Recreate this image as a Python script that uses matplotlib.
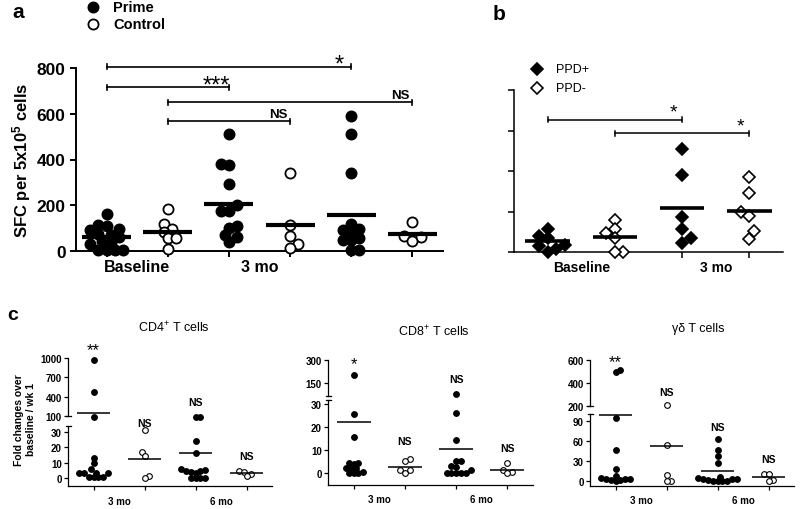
import numpy as np
import matplotlib
matplotlib.use("Agg")
import matplotlib.pyplot as plt
from matplotlib.lines import Line2D

plt.rcParams['font.family'] = ['Liberation Sans', 'DejaVu Sans']
plt.rcParams['mathtext.fontset'] = 'custom'
plt.rcParams['mathtext.rm'] = 'Liberation Sans'
plt.rcParams['mathtext.bf'] = 'Liberation Sans:bold'
plt.rcParams['mathtext.default'] = 'regular'

# ---- data: panel a (SFC per 5x10^5 cells)
a_groups = ["Prime base", "Control base", "Prime 3 mo", "Control 3 mo", "Prime 6 mo", "Control 6 mo"]
a_prime_base = [160, 115, 110, 95, 90, 75, 70, 60, 45, 35, 30, 5, 5, 5, 5]
a_ctrl_base = [185, 120, 95, 85, 55, 55, 10]
a_prime_3 = [510, 380, 375, 295, 200, 175, 175, 110, 100, 70, 60, 40]
a_ctrl_3 = [340, 115, 65, 30, 15]
a_prime_6 = [590, 510, 340, 120, 95, 90, 85, 55, 50, 50, 5, 5]
a_ctrl_6 = [125, 65, 60, 45]
a_means = [61, 83, 207, 112, 156, 76]
a_xlabels = ["Baseline", "3 mo"]
a_brackets = [(1, 3, 716, "***"), (1, 5, 806, "*"), (2, 4, 567, "NS"), (2, 6, 650, "NS")]

# ---- data: panel b
b_pos_base = [57, 39, 34, 18, 16, 7, 0]
b_neg_base = [80, 57, 48, 34, 0, 0]
b_pos_3 = [255, 191, 86, 56, 34, 21]
b_neg_3 = [186, 146, 99, 88, 51, 33]
b_means = [26, 37, 108, 101]
b_xlabels = ["Baseline", "3 mo"]
b_brackets = [(1, 3, 327, "*"), (2, 4, 293, "*")]

# ---- data: panel c (fold changes over baseline / wk 1)
c_xlabels = ["3 mo", "6 mo"]
cd4 = [[970, 480, 80, 13, 9.5, 6, 3.5, 3, 3, 3, 0.5, 0.5, 0.5, 0.5],
       [31, 17, 14, 1, 0],
       [80, 80, 24, 16, 6, 5, 4.5, 4.5, 4, 3.5, 0, 0, 0, 0],
       [4.5, 3.8, 2.5, 1]]
cd4_means = [145, 12.5, 16, 3.2]
cd4_notes = ["**", "NS", "NS", "NS"]
cd8 = [[200, 25.5, 15.5, 4.5, 4.5, 4, 2, 2, 2, 0.5, 0, 0, 0],
       [6, 5, 1.2, 1.2, 0],
       [80, 26, 14.5, 5, 5, 3, 2.5, 1.5, 0, 0, 0, 0, 0],
       [4.5, 1.5, 0.6, 0]]
cd8_means = [22, 2.8, 10.4, 1.5]
cd8_notes = ["*", "NS", "NS", "NS"]
gd = [[510, 495, 94, 46, 19, 8, 5, 4, 3, 3, 2, 2, 1],
      [205, 54, 9, 0, 0],
      [63, 47, 38, 27, 6, 5, 4, 3, 3, 2, 1, 1, 0, 0],
      [11, 11, 2.5, 0]]
gd_means = [98, 53, 15, 6]
gd_notes = ["**", "NS", "NS", "NS"]

W, H = 800, 510


def rect(l, t, r, b):
    return [l / W, 1 - b / H, (r - l) / W, (b - t) / H]


def fx(x):
    return x / W


def fy(y):
    return 1 - y / H


def swarm(ax, xc, vals, d):
    # simple beeswarm in pixel space
    vals = np.asarray(vals, dtype=float)
    pts = ax.transData.transform(np.column_stack([np.full(len(vals), xc), vals]))
    placed = []
    xpix = np.zeros(len(vals))
    flip = 1
    for i in np.argsort(pts[:, 1]):
        y = pts[i, 1]
        found = None
        for k in range(0, 60):
            for sgn in ([1] if k == 0 else [flip, -flip]):
                off = sgn * k * d * 0.5
                if all((off - px) ** 2 + (y - py) ** 2 >= d * d * 0.95 for px, py in placed):
                    found = off
                    break
            if found is not None:
                break
        if found != 0:
            flip = -flip
        placed.append((found, y))
        xpix[i] = pts[i, 0] + found
    return ax.transData.inverted().transform(np.column_stack([xpix, pts[:, 1]]))[:, 0]


def clean(ax, lw):
    ax.spines[['top', 'right']].set_visible(False)
    for s in ['left', 'bottom']:
        ax.spines[s].set_linewidth(lw)
    ax.patch.set_alpha(0)


def bracket(ax, x1, x2, y, txt, cap, lw, fs_star, fs_ns, dx, star_dy):
    ax.plot([x1, x2], [y, y], color='k', lw=lw, clip_on=False)
    for x in (x1, x2):
        ax.plot([x, x], [y - cap, y + cap], color='k', lw=lw, clip_on=False)
    if txt == "NS":
        ax.annotate(txt, (x2 - dx, y), xytext=(0, 3), textcoords='offset points',
                    ha='center', va='baseline', fontsize=fs_ns, fontweight='bold',
                    annotation_clip=False)
    else:
        ax.annotate(txt, (x2 - dx, y), xytext=(0, star_dy), textcoords='offset points',
                    ha='center', va='baseline', fontsize=fs_star, annotation_clip=False)


fig = plt.figure(figsize=(8, 5.1), dpi=100)

# ================= panel a
axa = fig.add_axes(rect(76, 69, 443, 252))
axa.set_xlim(0.5, 6.5)
axa.set_ylim(0, 800)
clean(axa, 1.4)
axa.set_yticks([0, 200, 400, 600, 800])
axa.set_xticks(range(1, 7))
axa.set_xticklabels([])
axa.set_xticks([1.5, 3.5], a_xlabels, minor=True)
axa.tick_params(axis='both', which='major', direction='out', length=4, width=1.4, labelsize=12.5)
axa.tick_params(axis='x', which='minor', length=0, labelsize=11.5, pad=6)
for lab in axa.get_yticklabels() + axa.get_xticklabels(minor=True):
    lab.set_fontweight('bold')
axa.set_ylabel('SFC per 5x10$^{\\mathbf{5}}$ cells', fontsize=12, fontweight='bold', va='center')
axa.yaxis.set_label_coords(-0.148, 0.5)

for i, vals in enumerate([a_prime_base, a_ctrl_base, a_prime_3, a_ctrl_3, a_prime_6, a_ctrl_6]):
    filled = i % 2 == 0
    xs = swarm(axa, i + 1, vals, 8.2)
    axa.plot(xs, vals, 'o', ms=7.3, mfc='k' if filled else 'white', mec='k', mew=1.3,
             ls='none', clip_on=False, zorder=3)
    axa.hlines(a_means[i], i + 1 - 0.4, i + 1 + 0.4, color='k', lw=3, zorder=4)

for x1, x2, y, t in a_brackets:
    bracket(axa, x1, x2, y, t, 11, 1.2, 17, 9.5, 0.2, -3)

fig.text(fx(12), fy(13), 'a', fontsize=15, fontweight='bold', ha='left', va='center')
for yy, filled, lab in [(8, True, 'Prime'), (25, False, 'Control')]:
    fig.add_artist(Line2D([fx(93)], [fy(yy)], marker='o', ms=7.3, mfc='k' if filled else 'white',
                          mec='k', mew=1.3, ls='none', transform=fig.transFigure))
    fig.text(fx(113), fy(yy), lab, fontsize=10.5, fontweight='bold', va='center')

# ================= panel b
axb = fig.add_axes(rect(514, 91, 783, 253))
axb.set_xlim(0.5, 4.5)
axb.set_ylim(0, 400)
clean(axb, 1.1)
axb.set_yticks([0, 100, 200, 300, 400])
axb.set_yticklabels([])
axb.set_xticks(range(1, 5))
axb.set_xticklabels([])
axb.set_xticks([1.5, 3.5], b_xlabels, minor=True)
axb.tick_params(axis='both', which='major', direction='out', length=4, width=1.1)
axb.tick_params(axis='x', which='minor', length=0, labelsize=10, pad=6)
for lab in axb.get_xticklabels(minor=True):
    lab.set_fontweight('bold')

for i, vals in enumerate([b_pos_base, b_neg_base, b_pos_3, b_neg_3]):
    filled = i % 2 == 0
    xs = swarm(axb, i + 1, vals, 8.5)
    axb.plot(xs, vals, 'D', ms=6, mfc='k' if filled else 'white', mec='k', mew=1.2,
             ls='none', clip_on=False, zorder=3)
    axb.hlines(b_means[i], i + 1 - 0.33, i + 1 + 0.33, color='k', lw=2.6, zorder=4)

for x1, x2, y, t in b_brackets:
    bracket(axb, x1, x2, y, t, 6, 1.1, 14, 9, 0.13, 2)

fig.text(fx(493), fy(14), 'b', fontsize=15, fontweight='bold', ha='left', va='center')
for yy, filled, lab in [(70, True, 'PPD+'), (89, False, 'PPD-')]:
    fig.add_artist(Line2D([fx(537)], [fy(yy)], marker='D', ms=6, mfc='k' if filled else 'white',
                          mec='k', mew=1.2, ls='none', transform=fig.transFigure))
    fig.text(fx(556), fy(yy), lab, fontsize=9, va='center')


# ================= panel c
def panel_c(l, r, up_tb, lo_tb, up_lim, lo_lim, up_ticks, lo_ticks, groups, means, notes, note_y,
            title, title_xy):
    axu = fig.add_axes(rect(l, up_tb[0], r, up_tb[1]))
    axl = fig.add_axes(rect(l, lo_tb[0], r, lo_tb[1]))
    for ax, lim, ticks in ((axu, up_lim, up_ticks), (axl, lo_lim, lo_ticks)):
        ax.set_xlim(0.5, 4.5)
        ax.set_ylim(*lim)
        clean(ax, 0.9)
        ax.set_yticks(ticks)
        ax.tick_params(axis='y', direction='out', length=3, width=0.9, labelsize=7, pad=1.5)
        for lab in ax.get_yticklabels():
            lab.set_fontweight('bold')
    axu.spines['bottom'].set_visible(False)
    axu.tick_params(axis='x', bottom=False, labelbottom=False)
    axl.set_xticks(range(1, 5))
    axl.set_xticklabels([])
    axl.set_xticks([1.5, 3.5], c_xlabels, minor=True)
    axl.tick_params(axis='x', which='major', direction='out', length=3, width=0.9)
    axl.tick_params(axis='x', which='minor', length=0, labelsize=7, pad=7)
    for lab in axl.get_xticklabels(minor=True):
        lab.set_fontweight('bold')
    # break caps
    for yy in (up_tb[1], lo_tb[0]):
        fig.add_artist(Line2D([fx(l - 2.5), fx(l + 2.5)], [fy(yy), fy(yy)], color='k', lw=0.9,
                              transform=fig.transFigure))

    for i, vals in enumerate(groups):
        vals = np.asarray(vals, dtype=float)
        filled = i % 2 == 0
        for ax, v in ((axu, vals[vals >= up_lim[0] * 0.6]), (axl, vals[vals < up_lim[0] * 0.6])):
            if len(v) == 0:
                continue
            xs = swarm(ax, i + 1, v, 4.8)
            ax.plot(xs, v, 'o', ms=4.1, mfc='k' if filled else 'white', mec='k', mew=0.8,
                    ls='none', clip_on=False, zorder=3)
        tgt = axu if means[i] >= up_lim[0] else axl
        tgt.hlines(means[i], i + 1 - 0.33, i + 1 + 0.33, color='k', lw=1.1, zorder=4)

    for i, (t, y) in enumerate(zip(notes, note_y)):
        tgt = axu if y >= up_lim[0] else axl
        if t == "NS":
            tgt.text(i + 1, y, t, ha='center', va='center', fontsize=7.5, fontweight='bold',
                     clip_on=False)
        else:
            tgt.annotate(t, (i + 1, y), xytext=(0, -3), textcoords='offset points',
                         ha='center', va='center', fontsize=12, annotation_clip=False)
    fig.text(fx(title_xy[0]), fy(title_xy[1]), title, ha='center', va='center', fontsize=9)


panel_c(68, 272, (359, 417), (427, 487.3), (100, 1000), (-5.4, 33.7),
        [100, 400, 700, 1000], [0, 10, 20, 30], cd4, cd4_means, cd4_notes,
        [1190, 35.5, 322, 14.5], 'CD4$^{+}$ T cells', (174, 328))
panel_c(328, 533, (361, 396.7), (401, 485.7), (67, 300), (-5.1, 31.7),
        [150, 300], [0, 10, 20, 30], cd8, cd8_means, cd8_notes,
        [306, 13.8, 176, 10.9], 'CD8$^{+}$ T cells', (434, 332))
panel_c(590, 794, (360.7, 406.7), (415, 486.7), (200, 600), (-6.5, 100),
        [200, 400, 600], [0, 30, 60, 90], gd, gd_means, gd_notes,
        [621, 322, 81, 32.5], 'γδ T cells', (698, 329))

fig.text(fx(7), fy(316), 'c', fontsize=14, fontweight='bold', ha='left', va='center')
fig.text(fx(25), fy(420), 'Fold changes over\nbaseline / wk 1', rotation=90, ha='center',
         va='center', fontsize=7.5, fontweight='bold', linespacing=1.15)

fig.savefig('out.png', dpi=100, facecolor='white')
